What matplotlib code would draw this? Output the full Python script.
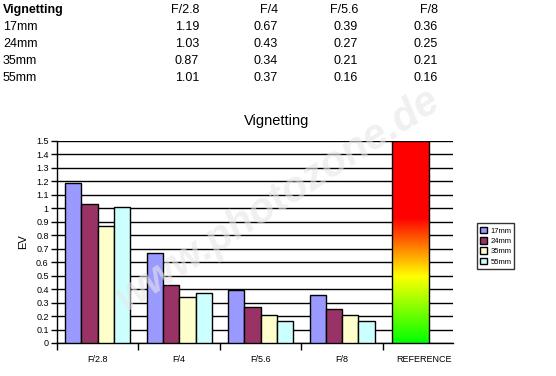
import numpy as np
import matplotlib.pyplot as plt
from matplotlib.colors import LinearSegmentedColormap

plt.rcParams['font.family'] = ['Liberation Sans', 'DejaVu Sans']

# data
apertures = ['F/2.8', 'F/4', 'F/5.6', 'F/8']
lenses = ['17mm', '24mm', '35mm', '55mm']
ev_17 = [1.19, 0.67, 0.39, 0.36]
ev_24 = [1.03, 0.43, 0.27, 0.25]
ev_35 = [0.87, 0.34, 0.21, 0.21]
ev_55 = [1.01, 0.37, 0.16, 0.16]
reference_max = 1.5
colors = ['#9999FF', '#993366', '#FFFFCC', '#CCFFFF']

series = [ev_17, ev_24, ev_35, ev_55]

fig = plt.figure(figsize=(5.56, 3.76), dpi=100)

# table on top
col_x = [199, 278, 358, 438]
row_y = [10, 27, 44, 61, 78]
fig.text(3 / 556, 1 - row_y[0] / 376, 'Vignetting', fontsize=9, fontweight='bold', va='center')
for j, a in enumerate(apertures):
    fig.text(col_x[j] / 556, 1 - row_y[0] / 376, a, fontsize=9, ha='right', va='center')
for i, name in enumerate(lenses):
    y = 1 - row_y[i + 1] / 376
    fig.text(3 / 556, y, name, fontsize=9, va='center')
    for j in range(len(apertures)):
        fig.text(col_x[j] / 556, y, '%.2f' % series[i][j], fontsize=9, ha='right', va='center')

fig.text(277 / 556, 1 - 121 / 376, 'Vignetting', fontsize=10.5, ha='center', va='center')

ax = fig.add_axes([57 / 556, 33 / 376, 396 / 556, 202 / 376])

x = np.arange(len(apertures))
w = 0.2
for k in range(4):
    ax.bar(x + (k - 1.5) * w, series[k], w, color=colors[k], edgecolor='black',
           linewidth=1, label=lenses[k], zorder=3)

# reference gradient bar
ref_x = 3.84
ref_w = 0.45
cmap = LinearSegmentedColormap.from_list('ref', [(0, '#00FF00'), (0.33, '#FFFF00'),
                                                 (0.62, '#FF0000'), (1, '#FF0000')])
grad = np.linspace(0, 1, 256).reshape(-1, 1)
ax.imshow(grad, cmap=cmap, origin='lower', aspect='auto',
          extent=[ref_x - ref_w / 2, ref_x + ref_w / 2, 0, reference_max], zorder=3)
ax.bar(ref_x, reference_max, ref_w, color='none', edgecolor='black', linewidth=1, zorder=4)

ax.set_xlim(-0.5, 4.36)
ax.set_ylim(0, 1.5)
yt = np.round(np.arange(0, 1.51, 0.1), 1)
ax.set_yticks(yt)
ax.set_yticklabels(['%g' % v for v in yt], fontsize=6.5)
ax.yaxis.grid(True, color='black', linewidth=1, zorder=0)
ax.set_axisbelow(True)

ax.set_xticks([-0.5, 0.5, 1.5, 2.5, 3.5], minor=False)
ax.set_xticklabels([])
ax.set_xticks([0, 1, 2, 3, 4], minor=True)
ax.set_xticklabels(apertures + ['REFERENCE'], minor=True, fontsize=6.5)
ax.tick_params(axis='x', which='minor', length=0, pad=9)
ax.tick_params(axis='x', which='major', length=5, width=1, color='black')
ax.tick_params(axis='y', length=4, width=1, pad=2)

for s in ['top', 'right']:
    ax.spines[s].set_visible(False)
for s in ['left', 'bottom']:
    ax.spines[s].set_linewidth(1)

ax.set_ylabel('EV', fontsize=8, labelpad=6)

leg = ax.legend(loc='center left', bbox_to_anchor=(1.05, 0.48), fontsize=5.5,
                frameon=True, fancybox=False, edgecolor='black', borderpad=0.4,
                handlelength=1.0, handleheight=1.0, handletextpad=0.4, labelspacing=0.3)
leg.get_frame().set_linewidth(1)

# watermark
fig.text(0.5, 0.47, 'www.photozone.de', fontsize=30, fontweight='bold', fontstyle='italic',
         rotation=33, ha='center', va='center', color='#e6e6e6', alpha=0.6, zorder=10)

fig.savefig('out.png', dpi=100)
